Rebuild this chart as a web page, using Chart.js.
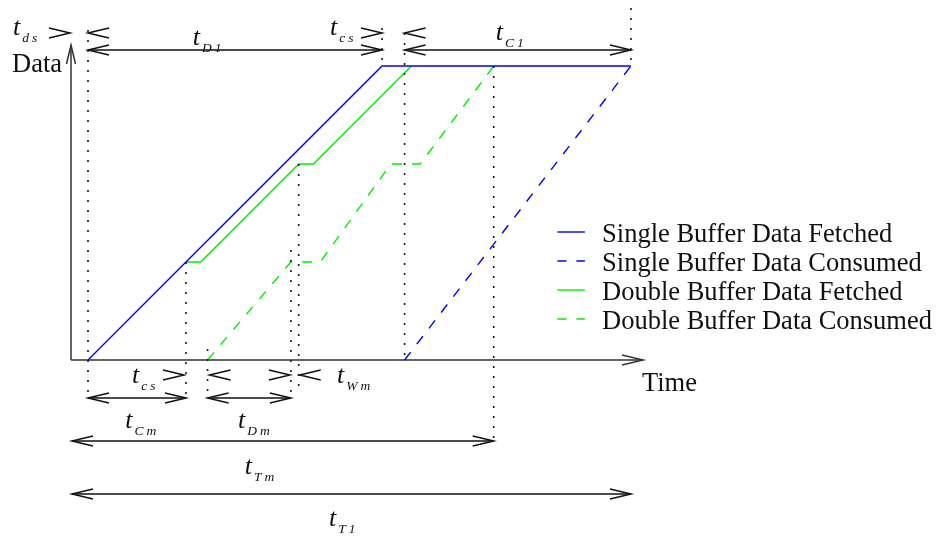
<!DOCTYPE html>
<html>
<head>
<meta charset="utf-8">
<script src="https://cdn.jsdelivr.net/npm/chart.js@4.4.1/dist/chart.umd.min.js"></script>
<style>
  html, body { margin: 0; padding: 0; background: #ffffff; }
  #wrap { width: 936px; height: 539px; }
</style>
</head>
<body>
<div id="wrap"><canvas id="chart" width="936" height="539"></canvas></div>
<script>
// Time is measured in tenths of one block-fetch period, data in blocks.
const seriesNames = [
  'Single Buffer Data Fetched',
  'Single Buffer Data Consumed',
  'Double Buffer Data Fetched',
  'Double Buffer Data Consumed'
];
const singleFetched  = [{x: 0, y: 0}, {x: 30, y: 3}, {x: 55.4, y: 3}];
const singleConsumed = [{x: 32.3, y: 0}, {x: 55.4, y: 3}];
const doubleFetched  = [{x: 0, y: 0}, {x: 10, y: 1}, {x: 11.5, y: 1}, {x: 21.5, y: 2}, {x: 23, y: 2}, {x: 33, y: 3}];
const doubleConsumed = [{x: 12.2, y: 0}, {x: 20.7, y: 1}, {x: 23.7, y: 1}, {x: 30.9, y: 2}, {x: 33.9, y: 2}, {x: 41.4, y: 3}];

const timeRange = [-1.735, 56.63];
const dataRange = [0, 3.214];

const BLUE = '#0000ff';
const GREEN = '#00f000';
const SERIF = '"Liberation Serif", "Times New Roman", serif';

// open ">" / "<" shaped head; dir = +1 points right, -1 points left
function chevron(ctx, tx, ty, dir) {
  ctx.beginPath();
  ctx.moveTo(tx - dir * 21, ty - 5);
  ctx.lineTo(tx, ty);
  ctx.lineTo(tx - dir * 21, ty + 5);
  ctx.stroke();
}

function spanArrow(ctx, x1, x2, y) {
  ctx.beginPath();
  ctx.moveTo(x1, y);
  ctx.lineTo(x2, y);
  ctx.stroke();
  chevron(ctx, x1, y, -1);
  chevron(ctx, x2, y, 1);
}

function dotted(ctx, x, y1, y2) {
  ctx.save();
  ctx.setLineDash([2, 8]);
  ctx.lineWidth = 1.6;
  ctx.strokeStyle = '#1a1a1a';
  ctx.beginPath();
  ctx.moveTo(x, y1);
  ctx.lineTo(x, y2);
  ctx.stroke();
  ctx.restore();
}

// italic t with a spaced subscript
function mathT(ctx, x, y, sub) {
  ctx.save();
  ctx.fillStyle = '#111';
  ctx.textBaseline = 'alphabetic';
  ctx.textAlign = 'left';
  ctx.font = 'italic 26px ' + SERIF;
  ctx.fillText('t', x, y);
  const w = ctx.measureText('t').width;
  ctx.font = 'italic 13.5px ' + SERIF;
  ctx.letterSpacing = '3px';
  ctx.fillText(sub, x + w + 2, y + 7);
  ctx.restore();
}

const axesPlugin = {
  id: 'timingAxes',
  beforeDatasetsDraw(chart) {
    const {ctx, scales: {x, y}} = chart;
    const X = v => x.getPixelForValue(v), Y = v => y.getPixelForValue(v);
    ctx.save();
    ctx.strokeStyle = '#333';
    ctx.lineWidth = 1.5;
    ctx.beginPath();
    ctx.moveTo(X(timeRange[0]), Y(0));
    ctx.lineTo(X(timeRange[0]), Y(dataRange[1]));
    ctx.moveTo(X(timeRange[0]), Y(0));
    ctx.lineTo(X(timeRange[1]), Y(0));
    ctx.stroke();
    // arrow heads on both axes
    const ox = X(timeRange[0]), ty = Y(dataRange[1]);
    ctx.beginPath();
    ctx.moveTo(ox - 4.5, ty + 19); ctx.lineTo(ox, ty); ctx.lineTo(ox + 4.5, ty + 19);
    ctx.stroke();
    chevron(ctx, X(timeRange[1]), Y(0), 1);
    ctx.restore();
  }
};

const notesPlugin = {
  id: 'timingNotes',
  afterDatasetsDraw(chart) {
    const {ctx, scales: {x, y}} = chart;
    const X = v => x.getPixelForValue(v), Y = v => y.getPixelForValue(v);
    const tStart = singleFetched[0].x;
    const tFetchEnd = singleFetched[1].x;
    const tConsStart = singleConsumed[0].x;
    const tEnd = singleConsumed[1].x;
    const tBlk1 = doubleFetched[1].x;
    const tCons0 = doubleConsumed[0].x;
    const tCons1 = doubleConsumed[1].x;
    const tBlk2 = doubleFetched[3].x;
    const tConsEnd = doubleConsumed[5].x;
    const x0 = X(timeRange[0]);

    const top = Y(3), base = Y(0);
    const rowTopMark = top - 33, rowTopArrow = top - 16;
    const rowLowMark = base + 15, rowLowArrow = base + 38;
    const rowTm = base + 81, rowT1 = base + 134;

    // guide lines
    dotted(ctx, X(tStart), top - 36, rowLowArrow);
    dotted(ctx, X(tBlk1), Y(1), rowLowArrow);
    dotted(ctx, X(tCons0), base - 11, rowLowArrow);
    dotted(ctx, X(tCons1), Y(1) - 12, base + 32);
    dotted(ctx, X(tBlk2), Y(2), base + 32);
    dotted(ctx, X(tFetchEnd), top - 38, top);
    dotted(ctx, X(tConsStart), top - 33, base);
    dotted(ctx, X(tConsEnd), top, rowTm);
    dotted(ctx, X(tEnd), top - 58, top);

    ctx.save();
    ctx.strokeStyle = '#111';
    ctx.lineWidth = 1.5;
    // spans
    spanArrow(ctx, X(tStart), X(tFetchEnd), rowTopArrow);
    spanArrow(ctx, X(tConsStart), X(tEnd), rowTopArrow);
    spanArrow(ctx, X(tStart), X(tBlk1), rowLowArrow);
    spanArrow(ctx, X(tCons0), X(tCons1), rowLowArrow);
    spanArrow(ctx, x0 + 1, X(tConsEnd), rowTm);
    spanArrow(ctx, x0 + 1, X(tEnd), rowT1);
    // gap markers
    chevron(ctx, x0 - 1, rowTopMark, 1);
    chevron(ctx, X(tStart), rowTopMark, -1);
    chevron(ctx, X(tFetchEnd), rowTopMark, 1);
    chevron(ctx, X(tConsStart), rowTopMark, -1);
    chevron(ctx, X(tBlk1) - 2, rowLowMark, 1);
    chevron(ctx, X(tCons0) + 2, rowLowMark, -1);
    chevron(ctx, X(tCons1) - 1, rowLowMark, 1);
    chevron(ctx, X(tBlk2) + 1, rowLowMark, -1);
    ctx.restore();

    // labels
    mathT(ctx, x0 - 58, top - 31, 'ds');
    mathT(ctx, X(10.7), top - 21, 'D1');
    mathT(ctx, X(24.7), top - 31, 'cs');
    mathT(ctx, X(41.6), top - 26, 'C1');
    mathT(ctx, X(4.5), base + 23, 'cs');
    mathT(ctx, X(25.4), base + 23, 'Wm');
    mathT(ctx, X(3.8), base + 68, 'Cm');
    mathT(ctx, X(15.3), base + 68, 'Dm');
    mathT(ctx, X(16.0), base + 114, 'Tm');
    mathT(ctx, X(24.6), base + 166, 'T1');

    ctx.save();
    ctx.fillStyle = '#111';
    ctx.font = '26.5px ' + SERIF;
    ctx.textBaseline = 'alphabetic';
    ctx.fillText('Data', x0 - 59, Y(dataRange[1]) + 27);
    ctx.fillText('Time', X(timeRange[1]) - 1, base + 31);

    // key
    const styles = [
      {c: BLUE, d: []}, {c: BLUE, d: [9, 10]},
      {c: GREEN, d: []}, {c: GREEN, d: [9, 10]}
    ];
    const kx1 = X(47.9), kx2 = X(50.7), tx = X(52.45);
    seriesNames.forEach((name, i) => {
      const ky = Y(1.306) + i * 29;
      ctx.save();
      ctx.strokeStyle = styles[i].c;
      ctx.lineWidth = 1.4;
      ctx.setLineDash(styles[i].d);
      ctx.beginPath();
      ctx.moveTo(kx1, ky);
      ctx.lineTo(kx2, ky);
      ctx.stroke();
      ctx.restore();
      ctx.fillText(name, tx, ky + 9.5);
    });
    ctx.restore();
  }
};

new Chart(document.getElementById('chart'), {
  type: 'scatter',
  data: {
    datasets: [
      {label: seriesNames[0], data: singleFetched, borderColor: BLUE, showLine: true, order: 0},
      {label: seriesNames[1], data: singleConsumed, borderColor: BLUE, borderDash: [10, 10], showLine: true, order: 1},
      {
        label: seriesNames[2], data: doubleFetched, borderColor: GREEN, showLine: true, order: 2,
        // the first block's fetch runs along the single-buffer line, which is drawn over it
        segment: {borderColor: c => c.p0DataIndex === 0 ? 'rgba(0,0,0,0)' : GREEN}
      },
      {label: seriesNames[3], data: doubleConsumed, borderColor: GREEN, borderDash: [10, 10], showLine: true, order: 3}
    ]
  },
  options: {
    responsive: false,
    animation: false,
    layout: {padding: {left: 71, right: 293, top: 45, bottom: 179}},
    datasets: {scatter: {clip: false, borderWidth: 1.4, pointRadius: 0, pointHoverRadius: 0, tension: 0}},
    plugins: {legend: {display: false}, tooltip: {enabled: false}},
    scales: {
      x: {type: 'linear', min: timeRange[0], max: timeRange[1], display: false},
      y: {type: 'linear', min: dataRange[0], max: dataRange[1], display: false}
    }
  },
  plugins: [axesPlugin, notesPlugin]
});
</script>
</body>
</html>
